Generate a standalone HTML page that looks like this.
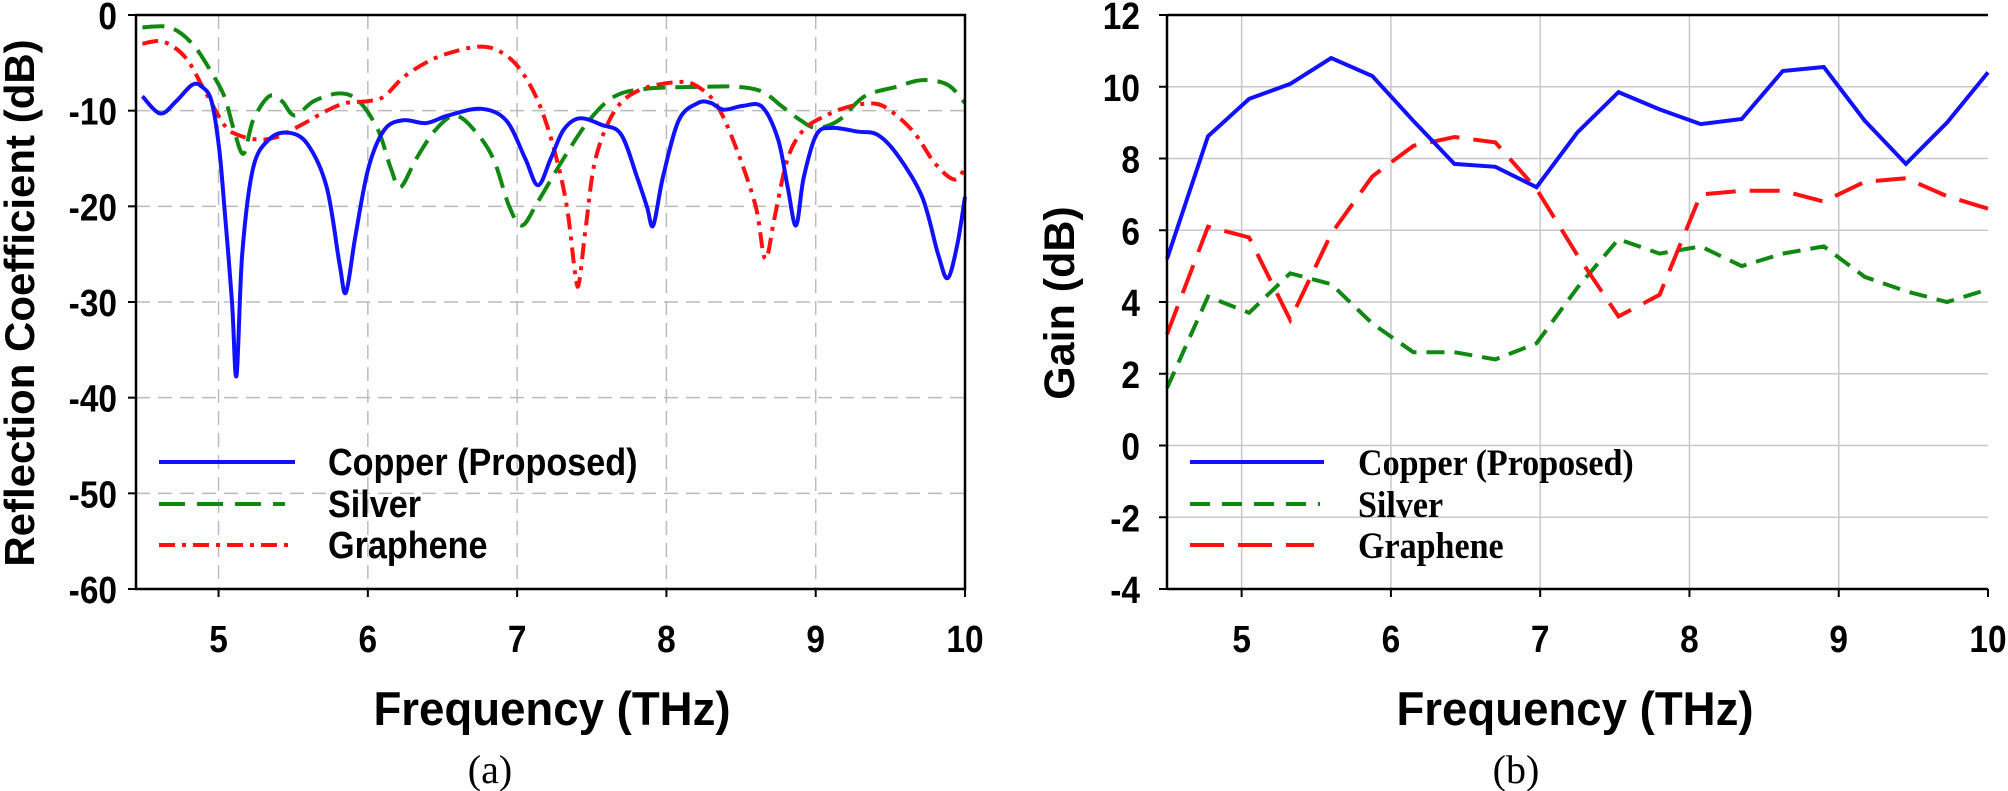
<!DOCTYPE html>
<html><head><meta charset="utf-8"><style>
html,body{margin:0;padding:0;background:#fff;}
svg{display:block;}
text{font-family:"Liberation Sans",Arial,sans-serif;font-weight:bold;fill:#000;}
.t{font-family:"Liberation Serif","Times New Roman",serif;}
</style></head><body>
<svg id="s" width="2008" height="791" viewBox="0 0 2008 791" xmlns="http://www.w3.org/2000/svg"></svg>
<script>
const s=document.getElementById('s');let h='';
const L={x0:136,x1:965,y0:15,y1:589,xmin:4.447,xmax:10,ymin:-60,ymax:0};
const R={x0:1167,x1:1988,y0:15,y1:589,xmin:4.5,xmax:10,ymin:-4,ymax:12};
function X(p,v){return p.x0+(v-p.xmin)/(p.xmax-p.xmin)*(p.x1-p.x0);}
function Y(p,v){return p.y1-(v-p.ymin)/(p.ymax-p.ymin)*(p.y1-p.y0);}
function tx(x,y,size,str,anchor,sx,cls){return `<text ${cls?'class="t"':''} transform="translate(${x},${y}) scale(${sx||1},1)" font-size="${size}" text-anchor="${anchor||'start'}">${str}</text>`;}
for(let t=5;t<=9;t++){let x=X(L,t);h+=`<line x1="${x}" y1="${L.y0}" x2="${x}" y2="${L.y1}" stroke="#bbb" stroke-width="1.5" stroke-dasharray="14,8"/>`;
 x=X(R,t);h+=`<line x1="${x}" y1="${R.y0}" x2="${x}" y2="${R.y1}" stroke="#c8c8c8" stroke-width="1.5"/>`;}
for(let v=-50;v<=-10;v+=10){let y=Y(L,v);h+=`<line x1="${L.x0}" y1="${y}" x2="${L.x1}" y2="${y}" stroke="#bbb" stroke-width="1.5" stroke-dasharray="14,8"/>`;}
for(let v=-2;v<=10;v+=2){let y=Y(R,v);h+=`<line x1="${R.x0}" y1="${y}" x2="${R.x1}" y2="${y}" stroke="#c8c8c8" stroke-width="1.5"/>`;}
for(let v=0;v>=-60;v-=10){h+=tx(117,Y(L,v)+14,38,v,'end',0.88);h+=`<line x1="${L.x0-8}" y1="${Y(L,v)}" x2="${L.x0}" y2="${Y(L,v)}" stroke="#000" stroke-width="2"/>`;}
for(let v=12;v>=-4;v-=2){h+=tx(1140,Y(R,v)+14,38,v,'end',0.88);h+=`<line x1="${R.x0-8}" y1="${Y(R,v)}" x2="${R.x0}" y2="${Y(R,v)}" stroke="#000" stroke-width="2"/>`;}
for(let t=5;t<=10;t++){h+=tx(X(L,t),652,38,t,'middle',0.88);h+=`<line x1="${X(L,t)}" y1="${L.y1}" x2="${X(L,t)}" y2="${L.y1+8}" stroke="#000" stroke-width="2"/>`;
 h+=tx(X(R,t),652,38,t,'middle',0.88);h+=`<line x1="${X(R,t)}" y1="${R.y1}" x2="${X(R,t)}" y2="${R.y1+8}" stroke="#000" stroke-width="2"/>`;}
h+=tx(552,725,47,'Frequency (THz)','middle',0.97);
h+=tx(1575,725,47,'Frequency (THz)','middle',0.97);
h+=`<text class="t" x="490" y="783" font-size="40" text-anchor="middle" style="font-weight:normal">(a)</text>`;
h+=`<text class="t" x="1516" y="783" font-size="40" text-anchor="middle" style="font-weight:normal">(b)</text>`;
h+=`<text transform="translate(34,303) rotate(-90)" font-size="42" text-anchor="middle">Reflection Coefficient (dB)</text>`;
h+=`<text transform="translate(1074,303) rotate(-90)" font-size="43" text-anchor="middle">Gain (dB)</text>`;
const cu=[[222,-8.5],[250,-10.3],[275,-9],[300,-7.3],[315,-7.5],[330,-9],[342,-14],[350,-20],[362,-30],[369,-37.7],[378,-25],[395,-16],[420,-13],[450,-12.3],[480,-13.5],[510,-18],[530,-26],[540,-29],[555,-23],[575,-16],[600,-12],[630,-11],[665,-11.3],[700,-10.5],[750,-9.8],[790,-11],[820,-15],[840,-17.8],[860,-15],[880,-12],[905,-10.8],[940,-11.5],[970,-12.5],[995,-17],[1010,-20],[1020,-22],[1035,-17],[1060,-11],[1090,-9.2],[1110,-9.2],[1130,-9.9],[1160,-9.5],[1190,-9.6],[1215,-13],[1230,-18],[1243,-22],[1255,-17],[1275,-12.5],[1300,-11.8],[1340,-12.2],[1370,-12.5],[1400,-14.5],[1440,-19],[1465,-25],[1480,-27.5],[1495,-24],[1507,-19]];
const ag=[[222,-1.3],[265,-1.3],[300,-3],[330,-6],[350,-8.5],[365,-12],[380,-14.5],[395,-11],[420,-8.5],[440,-9],[460,-10.5],[490,-9],[530,-8.2],[560,-9],[590,-12],[610,-16],[625,-18],[650,-15],[680,-12],[710,-10.5],[740,-12],[770,-15],[795,-20],[815,-22],[840,-19.5],[880,-15],[920,-11],[960,-8.5],[1010,-7.7],[1100,-7.5],[1150,-7.5],[1190,-8],[1220,-9.5],[1250,-11],[1275,-11.8],[1310,-11],[1350,-8.5],[1400,-7.5],[1440,-6.8],[1480,-7.3],[1507,-9.2]];
const gr=[[222,-3],[255,-2.8],[290,-4.5],[320,-8],[350,-11.5],[370,-12.5],[400,-13],[430,-12.8],[470,-11.5],[510,-10],[540,-9.2],[575,-9],[600,-8.5],[630,-6.5],[670,-4.8],[710,-3.8],[750,-3.3],[780,-3.8],[810,-5.5],[840,-9],[865,-14],[885,-20],[898,-27],[904,-28],[915,-22],[930,-15],[960,-10],[1000,-7.8],[1060,-7],[1090,-7.5],[1120,-9.5],[1150,-14],[1180,-20],[1195,-25.5],[1210,-21],[1230,-15],[1255,-12],[1290,-10.5],[1330,-9.5],[1370,-9.3],[1400,-10.5],[1430,-12.5],[1460,-15.5],[1490,-17.2],[1507,-16]];
function smooth(P){let d=`M${P[0][0].toFixed(1)},${P[0][1].toFixed(1)}`;
 for(let i=0;i<P.length-1;i++){const p0=P[i-1]||P[i],p1=P[i],p2=P[i+1],p3=P[i+2]||P[i+1];
  const c1=[p1[0]+(p2[0]-p0[0])/6,p1[1]+(p2[1]-p0[1])/6],c2=[p2[0]-(p3[0]-p1[0])/6,p2[1]-(p3[1]-p1[1])/6];
  d+=` C${c1[0].toFixed(1)},${c1[1].toFixed(1)} ${c2[0].toFixed(1)},${c2[1].toFixed(1)} ${p2[0].toFixed(1)},${p2[1].toFixed(1)}`;}
 return d;}
function lp(d,col,dash){let P=d.map(p=>{let t=5+(p[0]-341)/233.2;return [X(L,t),Y(L,p[1])]});
 h+=`<path d="${smooth(P)}" fill="none" stroke="${col}" stroke-width="4" stroke-linejoin="round" ${dash?`stroke-dasharray="${dash}"`:''}/>`;}
lp(ag,'#118811','22,10');lp(gr,'#ff1111','16,7,4,7');lp(cu,'#1111ff','');
const rc=[5.2,8.62,9.66,10.08,10.8,10.3,9.05,7.85,7.77,7.2,8.73,9.85,9.37,8.96,9.1,10.44,10.55,9.05,7.85,9.0,10.4];
const rg=[3.1,6.1,5.8,3.5,5.9,7.5,8.35,8.6,8.45,7.15,5.3,3.6,4.2,7.0,7.1,7.1,6.8,7.35,7.45,6.95,6.6];
const rs=[1.6,4.15,3.7,4.8,4.5,3.4,2.6,2.6,2.4,2.85,4.4,5.75,5.35,5.55,5.0,5.35,5.55,4.7,4.3,4.0,4.35];
function rp(d,col,dash){let pts=d.map((v,i)=>X(R,4.5+0.275*i).toFixed(1)+','+Y(R,v).toFixed(1)).join(' ');
 h+=`<polyline points="${pts}" fill="none" stroke="${col}" stroke-width="4" ${dash?`stroke-dasharray="${dash}"`:''}/>`;}
rp(rs,'#118811','18,10');rp(rg,'#ff1111','30,14');rp(rc,'#1111ff','');
h+=`<rect x="${L.x0}" y="${L.y0}" width="${L.x1-L.x0}" height="${L.y1-L.y0}" fill="none" stroke="#000" stroke-width="2.5"/>`;
h+=`<line x1="${R.x0}" y1="${R.y0}" x2="${R.x1}" y2="${R.y0}" stroke="#000" stroke-width="2.5"/><line x1="${R.x0}" y1="${R.y0}" x2="${R.x0}" y2="${R.y1}" stroke="#000" stroke-width="2.5"/><line x1="${R.x0}" y1="${R.y1}" x2="${R.x1}" y2="${R.y1}" stroke="#000" stroke-width="2.5"/>`;
const ly=[462,504,545];
h+=`<line x1="159" y1="${ly[0]}" x2="295" y2="${ly[0]}" stroke="#1111ff" stroke-width="4"/>`;
h+=`<line x1="159" y1="${ly[1]}" x2="285" y2="${ly[1]}" stroke="#118811" stroke-width="4" stroke-dasharray="26,12"/>`;
h+=`<line x1="159" y1="${ly[2]}" x2="295" y2="${ly[2]}" stroke="#ff1111" stroke-width="4" stroke-dasharray="16,7,4,7"/>`;
['Copper (Proposed)','Silver','Graphene'].forEach((t,i)=>{h+=tx(328,ly[i]+13,38,t,'start',0.9);});
h+=`<line x1="1190" y1="${ly[0]}" x2="1324" y2="${ly[0]}" stroke="#1111ff" stroke-width="4"/>`;
h+=`<line x1="1190" y1="${ly[1]}" x2="1320" y2="${ly[1]}" stroke="#118811" stroke-width="4" stroke-dasharray="20,12"/>`;
h+=`<line x1="1190" y1="${ly[2]}" x2="1314" y2="${ly[2]}" stroke="#ff1111" stroke-width="4" stroke-dasharray="34,14"/>`;
['Copper (Proposed)','Silver','Graphene'].forEach((t,i)=>{h+=tx(1358,ly[i]+13,37,t,'start',0.92,1);});
s.innerHTML=h;
</script>
</body></html>
